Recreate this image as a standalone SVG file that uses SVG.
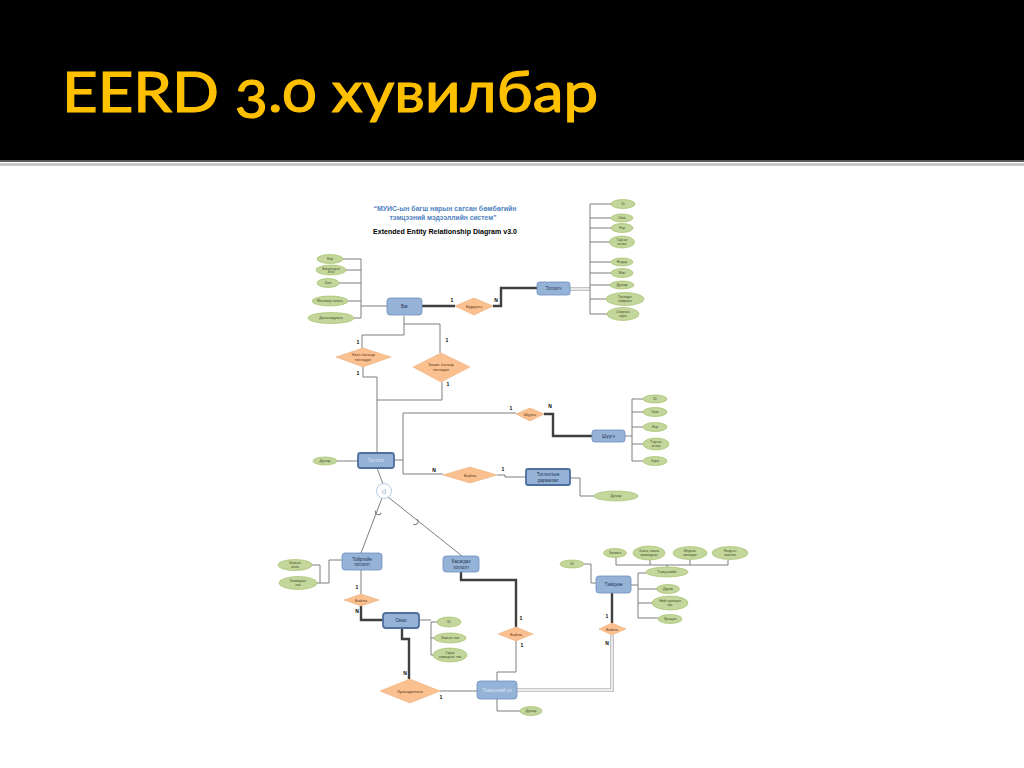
<svg xmlns="http://www.w3.org/2000/svg" width="1024" height="768" viewBox="0 0 1024 768">
<style>
.ent{fill:#95B3D7;stroke:#6E8FBF;stroke-width:0.8}
.went{fill:#95B3D7;stroke:#4F6F9F;stroke-width:1.8}
.rel{fill:#FAC08F;stroke:#E9A66E;stroke-width:0.5}
.att{fill:#C3D69B;stroke:#9BBB59;stroke-width:0.6}
.et{font-family:"Liberation Sans",Arial,sans-serif;font-size:4.6px;fill:#1F3050;text-anchor:middle}
.rt{font-family:"Liberation Sans",Arial,sans-serif;font-size:4.2px;fill:#5A3A20;text-anchor:middle}
.at{font-family:"Liberation Sans",Arial,sans-serif;font-size:3.4px;fill:#3A4A20;text-anchor:middle}
.ct{font-family:"Liberation Sans",Arial,sans-serif;font-size:5px;font-weight:bold;fill:#000;text-anchor:middle}
.ln{fill:none;stroke:#7F7F7F;stroke-width:1}
.th{fill:none;stroke:#3F3F3F;stroke-width:2.4}
.dbo{fill:none;stroke:#B5B5B5;stroke-width:3.6}
.dbi{fill:none;stroke:#FFFFFF;stroke-width:1.4}
</style>
<rect x="0" y="0" width="1024" height="768" fill="#FFFFFF"/>
<rect x="0" y="0" width="1024" height="160" fill="#000000"/>
<rect x="0" y="160" width="1024" height="2" fill="#5A5A5A"/>
<rect x="0" y="163" width="1024" height="3" fill="#C8C8C8"/>
<text x="62" y="112" font-family="Lato,'Open Sans',sans-serif" font-size="57" fill="#FFC000" stroke="#FFC000" stroke-width="1.2" textLength="536" lengthAdjust="spacingAndGlyphs" style="font-variant-numeric:oldstyle-nums">EERD 3.0 хувилбар</text>

<g id="header">
<text x="445" y="211" font-family="'Liberation Sans',Arial,sans-serif" font-size="6.5" font-weight="bold" fill="#4F81BD" text-anchor="middle" textLength="143" lengthAdjust="spacingAndGlyphs">“МУИС-ын багш нарын сагсан бөмбөгийн</text>
<text x="443" y="220" font-family="'Liberation Sans',Arial,sans-serif" font-size="6.5" font-weight="bold" fill="#4F81BD" text-anchor="middle" textLength="107" lengthAdjust="spacingAndGlyphs">тэмцээний мэдээллийн систем”</text>
<text x="445" y="234" font-family="'Liberation Sans',Arial,sans-serif" font-size="6.5" font-weight="bold" fill="#000" text-anchor="middle" textLength="144" lengthAdjust="spacingAndGlyphs">Extended Entity Relationship Diagram v3.0</text>
</g>

<g id="connectors">
<path class="ln" d="M343 259H361M346 270H361M339 283H361M348 301H361M354 318H361M361 259V318M361 306H387"/>
<path class="th" d="M422 306H455M493 306H501V288H537"/>
<path class="dbo" d="M570 289H590"/><path class="dbi" d="M570 289H590"/>
<path class="ln" d="M590 204V314M590 204H611M590 218H611M590 228H611M590 242H610M590 262H611M590 273H611M590 285H610M590 299H606M590 314H607"/>
<path class="ln" d="M404 316V335H362V348M404 324H440V353"/>
<path class="ln" d="M363 367V377H377V453M442 382V400H377"/>
<path class="ln" d="M337 461H358M394 460H403M403 413V474M403 413H516M403 474H443"/>
<path class="th" d="M544 414H553V436H592"/>
<path class="ln" d="M625 436H632M632 399V461M632 399H643M632 412H643M632 427H643M632 444H643M632 461H643"/>
<path class="ln" d="M497 475H505V477H526M570 478H580V496H594"/>
<path class="ln" d="M377 468L383 484M382 498L361 553M388 497L462 556"/>
<path class="ln" d="M312 565H320V583M317 583H329V560H342" stroke="#A0A0A0"/>
<path class="ln" d="M361 570V594"/>
<path class="th" d="M361 606V620H383"/>
<path class="ln" d="M419 620H431M431 622V655M431 622H437M431 638H434M431 655H433"/>
<path class="th" d="M402 628V639H409V679"/>
<path class="ln" d="M440 691H477"/>
<path class="th" d="M461 572V580H516V627"/>
<path class="ln" d="M516 641V672H497V681"/>
<path class="dbo" d="M517 690H612V635"/><path class="dbi" d="M517 690H612V635"/>
<path class="th" d="M612 593V623"/>
<path class="ln" d="M497 699V711H520"/>
<path class="ln" d="M584 564H591V583H596"/>
<path class="ln" d="M616 557V565H728V560M650 560V565M690 560V565M667 565V567"/>
<path class="ln" d="M631 585H638M638 573V618M638 573H646M638 589H657M638 603H652M638 618H658"/>
</g>

<g id="subset-marks">
<path class="ln" d="M-3 -2.5A3 3 0 0 0 3 -2.5" transform="translate(377.5,514) rotate(22)"/>
<path class="ln" d="M-3 -2.5A3 3 0 0 0 3 -2.5" transform="translate(417,523) rotate(-53)"/>
</g>

<g id="cardinalities">
<text class="ct" x="452" y="302">1</text><text class="ct" x="496" y="302">N</text>
<text class="ct" x="358" y="344">1</text><text class="ct" x="447" y="342">1</text>
<text class="ct" x="358" y="375">1</text><text class="ct" x="448" y="386">1</text>
<text class="ct" x="511" y="410">1</text><text class="ct" x="550" y="408">N</text>
<text class="ct" x="434" y="472">N</text><text class="ct" x="503" y="471">1</text>
<text class="ct" x="357" y="589">1</text><text class="ct" x="357" y="613">N</text>
<text class="ct" x="405" y="675">N</text><text class="ct" x="441" y="699">1</text>
<text class="ct" x="521" y="620">1</text><text class="ct" x="522" y="647">1</text>
<text class="ct" x="607" y="618">1</text><text class="ct" x="607" y="645">N</text>
</g>

<g id="bag"><rect class="ent" x="387" y="298" width="35" height="17" rx="3"/><text class="et" x="404.5" y="308">Баг</text></g>
<g id="toglogch"><rect class="ent" x="537" y="282" width="33" height="13" rx="2.5"/><text class="et" x="553.5" y="290">Тоглогч</text></g>
<g id="togloolt"><rect class="went" x="358" y="453" width="36" height="15" rx="2.5"/><text class="et" x="376" y="462" style="fill:#DCE6F2">Тоглолт</text></g>
<g id="shuugch"><rect class="ent" x="592" y="430" width="33" height="12" rx="2.5"/><text class="et" x="608.5" y="437.5">Шүүгч</text></g>
<g id="daraalal"><rect class="went" x="526" y="469" width="44" height="16" rx="2"/><text class="et" x="548" y="476">Тоглолтын</text><text class="et" x="548" y="482">дараалал</text></g>
<g id="toirog"><rect class="ent" x="342" y="553" width="40" height="17" rx="3"/><text class="et" x="362" y="560.5">Тойргийн</text><text class="et" x="362" y="566">тоглолт</text></g>
<g id="hasagdah"><rect class="ent" x="443" y="556" width="36" height="16" rx="3"/><text class="et" x="461" y="563">Хасагдах</text><text class="et" x="461" y="568.5">тоглолт</text></g>
<g id="onoo"><rect class="went" x="383" y="613" width="36" height="15" rx="3"/><text class="et" x="401" y="622">Оноо</text></g>
<g id="temtseen"><rect class="ent" x="596" y="576" width="35" height="17" rx="3"/><text class="et" x="613.5" y="586">Тэмцээн</text></g>
<g id="temtseenii-uye"><rect class="ent" x="477" y="681" width="40" height="18" rx="3"/><text class="et" x="497" y="691.5" style="fill:#DCE6F2">Тэмцээний үе</text></g>

<g id="burdene"><polygon class="rel" points="455,306 474,298 493,306 474,315"/><text class="rt" x="474" y="307.5">Бүрдэнэ</text></g>
<g id="ezen"><polygon class="rel" points="336,357 363,348 391,357 363,367"/><text class="rt" x="363" y="356">Эзэн багаар</text><text class="rt" x="363" y="361">тоглодог</text></g>
<g id="zochin"><polygon class="rel" points="413,367 441,353 470,367 441,382"/><text class="rt" x="441" y="366">Зочин багаар</text><text class="rt" x="441" y="371">тоглодог</text></g>
<g id="shuune"><polygon class="rel" points="516,414 530,408 544,414 530,421"/><text class="rt" x="530" y="415.5">Шүүнэ</text></g>
<g id="baina1"><polygon class="rel" points="443,475 470,467 497,475 470,483"/><text class="rt" x="470" y="476.5">Байна</text></g>
<g id="baina2"><polygon class="rel" points="344,600 361,594 379,600 361,606"/><text class="rt" x="361" y="601.5">Байна</text></g>
<g id="baina3"><polygon class="rel" points="498,634 516,627 533,634 516,641"/><text class="rt" x="516" y="635.5">Байна</text></g>
<g id="baina4"><polygon class="rel" points="599,629 612,623 626,629 612,635"/><text class="rt" x="612" y="630.5">Байна</text></g>
<g id="huvaarilana"><polygon class="rel" points="380,691 410,679 440,691 410,703"/><text class="rt" x="410" y="692.5">Хуваарилана</text></g>

<g id="d-circle"><circle cx="384" cy="491" r="7.5" fill="#FFFFFF" stroke="#B8CCE4" stroke-width="1"/><text x="384" y="494" font-family="'Liberation Sans',Arial,sans-serif" font-size="8" fill="#A6BDD7" text-anchor="middle">d</text></g>

<g id="bag-attrs">
<g><ellipse class="att" cx="330" cy="259" rx="13" ry="4.5"/><text class="at" x="330" y="260.2">Нэр</text></g>
<g><ellipse class="att" cx="331" cy="270" rx="15" ry="5"/><text class="at" x="331" y="269.5" style="font-size:2.6px">Байгуулагдсан</text><text class="at" x="331" y="272.5" style="font-size:2.6px">огноо</text></g>
<g><ellipse class="att" cx="328" cy="283" rx="11" ry="4.5"/><text class="at" x="328" y="284.2">Хаяг</text></g>
<g><ellipse class="att" cx="330" cy="301" rx="18" ry="5"/><text class="at" x="330" y="302.2">Менежер төлөгч</text></g>
<g><ellipse class="att" cx="331" cy="318" rx="23" ry="5.5"/><text class="at" x="331" y="319.2">Дасгалжуулагч</text></g>
</g>

<g id="toglogch-attrs">
<g><ellipse class="att" cx="623" cy="204" rx="12" ry="4.5"/><text class="at" x="623" y="205.2">ID</text></g>
<g><ellipse class="att" cx="622" cy="218" rx="11" ry="4"/><text class="at" x="622" y="219.2">Овог</text></g>
<g><ellipse class="att" cx="622" cy="228" rx="11" ry="4.5"/><text class="at" x="622" y="229.2">Нэр</text></g>
<g><ellipse class="att" cx="622" cy="242" rx="12.5" ry="6"/><text class="at" x="622" y="241">Төрсөн</text><text class="at" x="622" y="245">огноо</text></g>
<g><ellipse class="att" cx="622" cy="262" rx="11" ry="4"/><text class="at" x="622" y="263.2">Өндөр</text></g>
<g><ellipse class="att" cx="622" cy="273" rx="11" ry="4.5"/><text class="at" x="622" y="274.2">Жин</text></g>
<g><ellipse class="att" cx="622" cy="285" rx="12" ry="4"/><text class="at" x="622" y="286.2">Дугаар</text></g>
<g><ellipse class="att" cx="625" cy="299" rx="19" ry="6.5"/><text class="at" x="625" y="298">Тоглодог</text><text class="at" x="625" y="302">байрлал</text></g>
<g><ellipse class="att" cx="623" cy="314" rx="16" ry="6.5"/><text class="at" x="623" y="313">Спортын</text><text class="at" x="623" y="317">зэрэг</text></g>
</g>

<g id="togloolt-attr"><ellipse class="att" cx="325" cy="461" rx="12" ry="4"/><text class="at" x="325" y="462.2">Дугаар</text></g>

<g id="shuugch-attrs">
<g><ellipse class="att" cx="655" cy="399" rx="12" ry="4"/><text class="at" x="655" y="400.2">ID</text></g>
<g><ellipse class="att" cx="655" cy="412" rx="12" ry="4.5"/><text class="at" x="655" y="413.2">Овог</text></g>
<g><ellipse class="att" cx="655" cy="427" rx="12" ry="4.5"/><text class="at" x="655" y="428.2">Нэр</text></g>
<g><ellipse class="att" cx="656" cy="444" rx="13" ry="6"/><text class="at" x="656" y="443">Төрсөн</text><text class="at" x="656" y="447">огноо</text></g>
<g><ellipse class="att" cx="655" cy="461" rx="12" ry="4.5"/><text class="at" x="655" y="462.2">Зэрэг</text></g>
</g>

<g id="daraalal-attr"><ellipse class="att" cx="616" cy="496" rx="22" ry="5"/><text class="at" x="616" y="497.2">Дугаар</text></g>

<g id="toirog-attrs">
<g><ellipse class="att" cx="295" cy="565" rx="17" ry="5.5"/><text class="at" x="295" y="564">Хожсон</text><text class="at" x="295" y="568">оноо</text></g>
<g><ellipse class="att" cx="298" cy="583" rx="19" ry="6.5"/><text class="at" x="298" y="582">Хожигдсон</text><text class="at" x="298" y="586">тоо</text></g>
</g>

<g id="onoo-attrs">
<g><ellipse class="att" cx="449" cy="622" rx="12" ry="5"/><text class="at" x="449" y="623.2">ID</text></g>
<g><ellipse class="att" cx="450" cy="638" rx="16" ry="5"/><text class="at" x="450" y="639.2">Хожсон тоо</text></g>
<g><ellipse class="att" cx="450" cy="655" rx="17" ry="7"/><text class="at" x="450" y="654">Гарах</text><text class="at" x="450" y="658">хожигдсон тоо</text></g>
</g>

<g id="temtseen-attrs">
<g><ellipse class="att" cx="572" cy="564" rx="12" ry="4"/><text class="at" x="572" y="565.2">ID</text></g>
<g><ellipse class="att" cx="615" cy="553" rx="11.5" ry="4.5"/><text class="at" x="615" y="554.2">Зохиогч</text></g>
<g><ellipse class="att" cx="649" cy="553" rx="16" ry="7"/><text class="at" x="649" y="552">Хэзээ, хаана</text><text class="at" x="649" y="556">зохиогдсон</text></g>
<g><ellipse class="att" cx="690" cy="553" rx="17" ry="6.5"/><text class="at" x="690" y="552">Медаль</text><text class="at" x="690" y="556">олгогдох</text></g>
<g><ellipse class="att" cx="730" cy="553" rx="18" ry="6.5"/><text class="at" x="730" y="552">Нэгдсэн</text><text class="at" x="730" y="556">шагнал</text></g>
<g><ellipse class="att" cx="667" cy="572" rx="21" ry="5"/><text class="at" x="667" y="573.2">Тэмцээнийн</text></g>
<g><ellipse class="att" cx="668" cy="589" rx="11.5" ry="4.5"/><text class="at" x="668" y="590.2">Дүрэм</text></g>
<g><ellipse class="att" cx="670" cy="603" rx="18" ry="7"/><text class="at" x="670" y="602">Нийт оролцох</text><text class="at" x="670" y="606">баг</text></g>
<g><ellipse class="att" cx="670" cy="619" rx="12" ry="4.5"/><text class="at" x="670" y="620.2">Хугацаа</text></g>
</g>

<g id="uye-attr"><ellipse class="att" cx="531" cy="711" rx="11" ry="4.5"/><text class="at" x="531" y="712.2">Дугаар</text></g>
</svg>
